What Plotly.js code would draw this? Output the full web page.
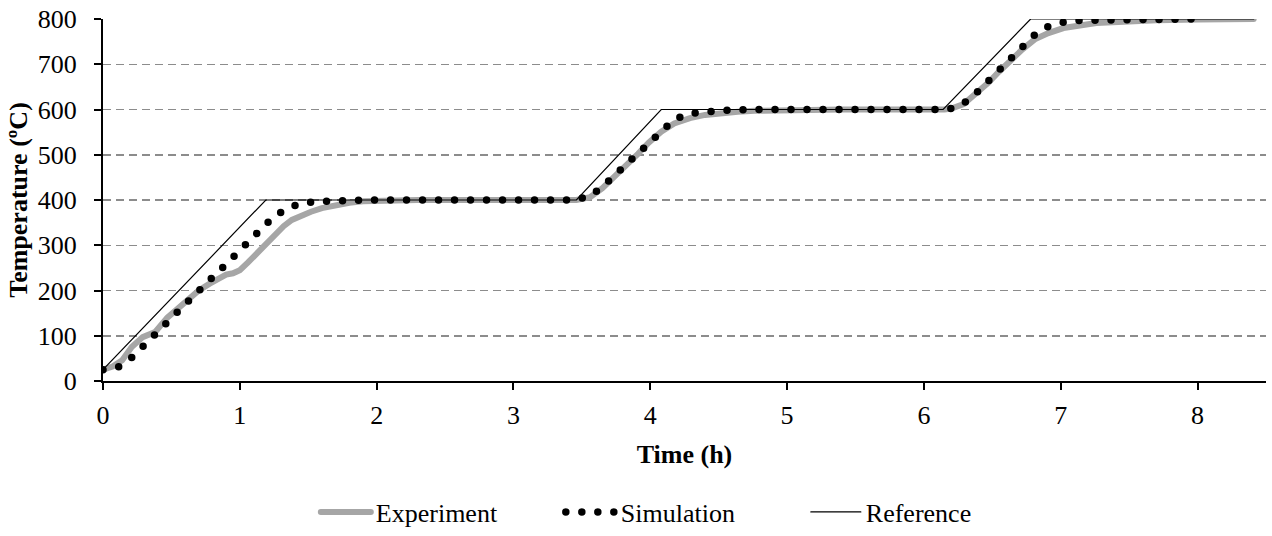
<!DOCTYPE html>
<html>
<head>
<meta charset="utf-8">
<script src="https://cdn.plot.ly/plotly-3.0.1.min.js"></script>
<style>
html,body{margin:0;padding:0;background:#fff;}
#chart{width:1272px;height:536px;}
.js-line{stroke-linecap:round;}
</style>
</head>
<body>
<div id="chart"></div>
<script>
// Experiment (thick grey line)
const expTime = [0, 0.07, 0.14, 0.21, 0.29, 0.38, 0.47, 0.56, 0.63, 0.70, 0.78, 0.85, 0.90, 0.95, 1.00, 1.06, 1.12, 1.18, 1.25, 1.32, 1.38, 1.45, 1.52, 1.60, 1.70, 1.80, 1.90, 2.00, 2.10, 2.30,
  3.46, 3.56, 3.65, 3.74, 3.82, 3.91, 3.99, 4.08, 4.175, 4.29, 4.40, 4.52, 4.64, 4.76, 4.90, 5.10, 5.40,
  6.15, 6.20, 6.29, 6.38, 6.47, 6.55, 6.63, 6.72, 6.81, 6.91, 7.02, 7.14, 7.26, 7.38, 7.49, 7.70, 8.00, 8.20, 8.41];
const expTemp = [25, 32, 46, 75, 97, 108, 140, 165, 185, 200, 215, 228, 235, 238, 245, 262, 280, 300, 322, 342, 356, 366, 374, 382, 389, 394, 397, 398, 399, 400,
  400, 406, 426, 451, 476, 502, 527, 551, 569, 581, 588, 593, 595, 597, 598, 599, 600,
  600, 602, 612, 634, 659, 684, 709, 733, 755, 769, 780, 787, 791, 793, 795, 797, 799, 800, 800];

// Simulation (round-dotted black line)
const simTime = [0, 0.112, 0.21, 0.30, 0.38, 0.463, 0.546, 0.634, 0.717, 0.80, 0.885, 0.97, 1.056, 1.141, 1.224, 1.319, 1.429, 1.546, 1.668, 1.78, 1.90, 3.45,
  3.563, 3.653, 3.741, 3.824, 3.909, 3.992, 4.08, 4.175, 4.287, 4.402, 4.521, 4.64, 4.80, 6.18,
  6.293, 6.384, 6.467, 6.55, 6.633, 6.72, 6.806, 6.906, 7.02, 7.137, 7.257, 7.376, 7.489, 7.60, 7.96];
const simTemp = [25, 31, 52, 77, 103, 128, 154, 179, 204, 229, 254, 280, 305, 331, 356, 377, 391, 396, 398, 399, 400, 400,
  409, 430, 455, 480, 506, 531, 556, 578, 591, 595, 598, 599, 600, 600,
  614, 637, 663, 688, 714, 739, 764, 783, 793, 797, 798, 798, 799, 800, 800];

// Reference (thin black line)
const refTime = [0, 1.19, 3.46, 4.08, 6.14, 6.78, 8.41];
const refTemp = [25, 400, 400, 600, 600, 800, 800];

const xTicks = [0, 1, 2, 3, 4, 5, 6, 7, 8];
const yTicks = [0, 100, 200, 300, 400, 500, 600, 700, 800];

const font = 'Liberation Serif, Times New Roman, serif';

const traces = [
  {x: expTime, y: expTemp, name: 'Experiment', mode: 'lines',
   line: {color: '#a6a6a6', width: 6}},
  {x: simTime, y: simTemp, name: 'Simulation', mode: 'lines',
   line: {color: '#000000', width: 7.5, dash: '0px,16px'}},
  {x: refTime, y: refTemp, name: 'Reference', mode: 'lines',
   line: {color: '#000000', width: 1.2}}
];

const layout = {
  width: 1272, height: 536,
  margin: {l: 103, r: 6, t: 19, b: 155, autoexpand: false},
  paper_bgcolor: '#ffffff', plot_bgcolor: '#ffffff',
  font: {family: font, size: 26, color: '#000'},
  showlegend: true,
  legend: {orientation: 'h', x: 0.183, xanchor: 'left', y: -0.362, yanchor: 'middle',
    font: {family: font, size: 26, color: '#000'}, itemwidth: 50,
    entrywidth: 180, entrywidthmode: 'pixels', traceorder: 'normal'},
  xaxis: {
    range: [0, 8.5], tickvals: xTicks, ticktext: xTicks.map(String),
    showgrid: false, zeroline: false,
    showline: true, linecolor: '#000', linewidth: 2,
    ticks: 'outside', ticklen: 7, tickwidth: 2, tickcolor: '#000',
    ticklabelstandoff: 3,
    title: {text: '<b>Time (h)</b>', font: {family: font, size: 26}, standoff: 16}
  },
  yaxis: {
    range: [0, 800], tickvals: yTicks, ticktext: yTicks.map(String),
    showgrid: true, gridcolor: '#8c8c8c', gridwidth: 1.5, griddash: '8px,5px',
    zeroline: false,
    showline: true, linecolor: '#000', linewidth: 2,
    ticks: 'outside', ticklen: 7, tickwidth: 2, tickcolor: '#000',
    ticklabelstandoff: 12,
    title: {text: '<b>Temperature (ºC)</b>', font: {family: font, size: 26}, standoff: 3}
  }
};

Plotly.newPlot('chart', traces, layout, {staticPlot: true, displayModeBar: false});
</script>
</body>
</html>
